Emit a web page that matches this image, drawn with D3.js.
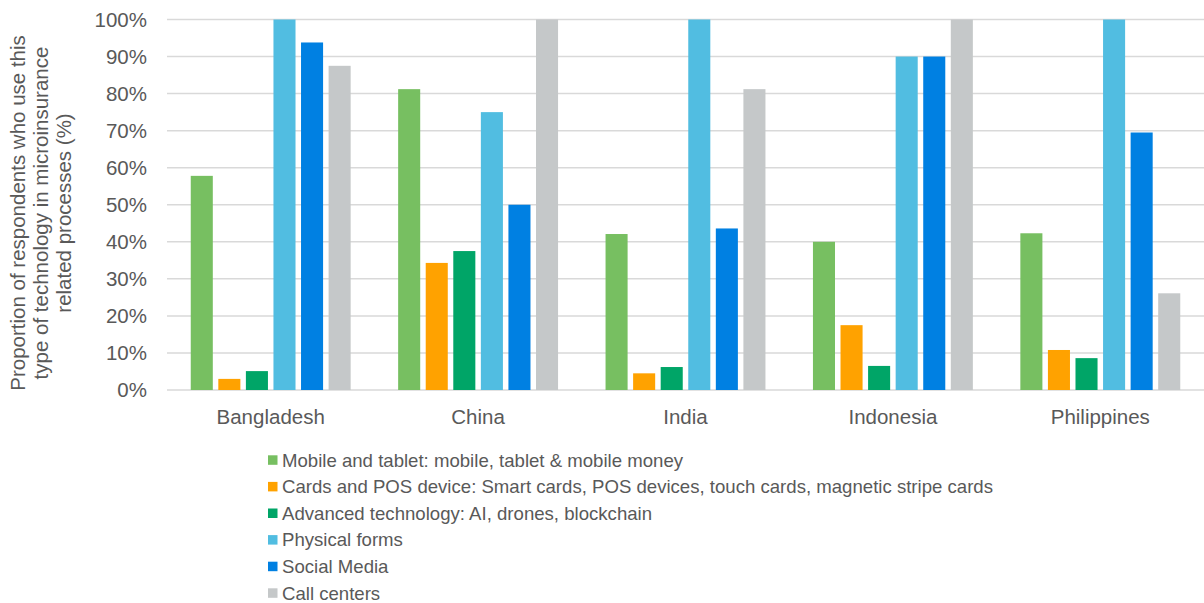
<!DOCTYPE html>
<html>
<head>
<meta charset="utf-8">
<script src="https://cdn.jsdelivr.net/npm/d3@7"></script>
<style>
  body { margin: 0; background: #fff; }
  text { font-family: "Liberation Sans", Arial, sans-serif; fill: #595959; }
</style>
</head>
<body>
<div id="chart"></div>
<script>
const countries = ["Bangladesh", "China", "India", "Indonesia", "Philippines"]
const seriesNames = [
  "Mobile and tablet: mobile, tablet & mobile money",
  "Cards and POS device: Smart cards, POS devices, touch cards, magnetic stripe cards",
  "Advanced technology: AI, drones, blockchain",
  "Physical forms",
  "Social Media",
  "Call centers"
]
const seriesColors = ["#77BF61", "#FFA200", "#00A567", "#51BDE1", "#0080E2", "#C5C8C9"]

// one array per series, values in % per country
const mobile   = [57.8, 81.2, 42.1, 40.0, 42.3]
const cards    = [3.0, 34.3, 4.5, 17.5, 10.8]
const advanced = [5.1, 37.5, 6.2, 6.5, 8.6]
const physical = [100, 75.0, 100, 90.0, 100]
const social   = [93.8, 50.0, 43.6, 90.0, 69.5]
const calls    = [87.5, 100, 81.2, 100, 26.1]
const seriesValues = [mobile, cards, advanced, physical, social, calls]

const yTicks = [0, 10, 20, 30, 40, 50, 60, 70, 80, 90, 100]

const svgWidth = 1204, svgHeight = 603
const margin = {left: 167, right: 0, top: 19.5, bottom: 213}
const width = svgWidth - margin.left - margin.right
const height = svgHeight - margin.top - margin.bottom

let svg = d3.select('#chart')
    .append('svg')
    .attr('width', svgWidth)
    .attr('height', svgHeight)

let chart = svg.append('g')
    .attr("transform", "translate(" + margin.left + "," + margin.top + ")")

let x0 = d3.scaleBand()
    .domain(countries)
    .range([0, width])
    .paddingInner(0.229)
    .paddingOuter(0.1145)

let x1 = d3.scaleBand()
    .domain(d3.range(seriesNames.length))
    .range([0, x0.bandwidth()])
    .paddingInner(0.2)

let y = d3.scaleLinear()
    .domain([0, 100])
    .range([height, 0])

// gridlines
chart.selectAll('.grid')
    .data(yTicks)
    .join('line')
    .attr('class', 'grid')
    .attr('x1', 0)
    .attr('x2', width)
    .attr('y1', d => y(d))
    .attr('y2', d => y(d))
    .attr('stroke', '#D9D9D9')
    .attr('stroke-width', 1.5)

// y tick labels
chart.selectAll('.ytick')
    .data(yTicks)
    .join('text')
    .attr('class', 'ytick')
    .attr('x', -20)
    .attr('y', d => y(d))
    .attr('dy', '0.35em')
    .attr('text-anchor', 'end')
    .style('font-size', '20.5px')
    .text(d => d + '%')

// bars
let groups = chart.selectAll('.country')
    .data(countries)
    .join('g')
    .attr('class', 'country')
    .attr('transform', d => `translate(${x0(d)},0)`)

groups.selectAll('rect')
    .data((c, ci) => seriesValues.map((vals, si) => ({series: si, value: vals[ci]})))
    .join('rect')
    .attr('x', d => x1(d.series))
    .attr('width', x1.bandwidth())
    .attr('y', d => y(d.value))
    .attr('height', d => height - y(d.value))
    .attr('fill', d => seriesColors[d.series])

// category labels
chart.selectAll('.xlabel')
    .data(countries)
    .join('text')
    .attr('class', 'xlabel')
    .attr('x', d => x0(d) + x0.bandwidth() / 2)
    .attr('y', height + 34)
    .attr('text-anchor', 'middle')
    .style('font-size', '20.5px')
    .text(d => d)

// y axis title
const titleLines = ["Proportion of respondents who use this", "type of technology in microinsurance", "related processes (%)"]
svg.append('text')
    .attr('transform', 'translate(0,213) rotate(-90)')
    .attr('text-anchor', 'middle')
    .style('font-size', '20.5px')
    .selectAll('tspan')
    .data(titleLines)
    .join('tspan')
    .attr('x', 0)
    .attr('y', (d, i) => 25 + i * 23)
    .text(d => d)

// legend
let legend = svg.append('g')
    .attr('transform', 'translate(268,460)')

let items = legend.selectAll('g')
    .data(seriesNames)
    .join('g')
    .attr('transform', (d, i) => `translate(0,${i * 26.6})`)

items.append('rect')
    .attr('x', 0)
    .attr('y', -4.7)
    .attr('width', 9.5)
    .attr('height', 9.5)
    .attr('fill', (d, i) => seriesColors[i])

items.append('text')
    .attr('x', 14)
    .attr('y', 0)
    .attr('dy', '0.35em')
    .style('font-size', '18.6px')
    .text(d => d)
</script>
</body>
</html>
